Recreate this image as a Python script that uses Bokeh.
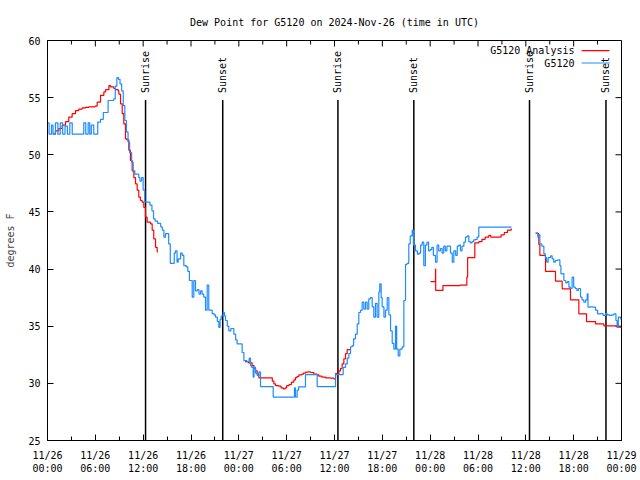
import math
from bokeh.plotting import figure
from bokeh.models import FixedTicker, Range1d
from bokeh.embed import file_html
from bokeh.resources import INLINE
from bokeh.core.properties import value

# ---------------- data (hours since 2024-11-26 00:00 UTC, degrees F) ----------------
obs_t1 = [0.0, 0.2, 0.5, 0.7, 1.0, 1.3, 1.6, 1.9, 2.2, 2.5, 2.8, 3.1, 4.55, 4.8, 5.1, 5.3,
          5.5, 5.8, 6.3, 6.65, 7.0, 7.6, 8.3, 8.5, 8.7, 8.9, 9.1, 9.3, 9.5, 9.7, 9.9, 10.1,
          10.3, 10.55, 10.75, 10.95, 11.2, 11.45, 11.6, 11.8, 12.0, 12.2, 12.7, 12.85, 13.1,
          13.3, 13.5, 13.8, 14.2, 14.4, 14.6, 14.8, 15.05, 15.2, 15.4, 15.7, 15.9, 16.05,
          16.25, 16.4, 16.7, 16.9, 17.1, 17.4, 17.6, 17.8, 18.15, 18.35, 18.56, 18.8, 19.0,
          19.2, 19.4, 19.6, 19.82, 20.03, 20.23, 20.45, 20.66, 20.9, 21.07, 21.3, 21.49,
          21.65, 21.79, 22.04, 22.2, 22.33, 22.55, 22.74, 23.0, 23.37, 23.6, 23.79, 24.2,
          24.42, 24.63, 25.0, 25.3, 25.46, 25.6, 25.8, 25.9, 26.09, 26.3, 26.51, 26.72,
          28.31, 30.9, 30.98, 31.1, 31.32, 31.5, 32.36, 33.83, 35.95, 36.13, 37.09, 37.38,
          37.6, 37.8, 38.01, 38.22, 38.4, 38.63, 38.85, 39.05, 39.26, 39.47, 39.68, 39.89,
          40.1, 40.3, 40.5, 40.73, 40.93, 41.14, 41.35, 41.56, 41.68, 41.85, 41.98, 42.2,
          42.4, 42.61, 42.82, 43.03, 43.24, 43.44, 43.65, 43.8, 43.99, 44.2, 44.49, 44.7,
          44.91, 45.1, 45.32, 45.5, 45.75, 45.9, 46.16, 46.4, 46.6, 46.8, 47.0, 47.2, 47.4,
          47.6, 47.8, 48.0, 48.2, 48.4, 48.67, 48.87, 49.07, 49.3, 49.5, 49.7, 49.9, 50.1,
          50.3, 50.55, 50.77, 50.97, 51.2, 51.4, 51.6, 51.8, 52.0, 52.23, 52.43, 52.64,
          52.85, 53.05, 53.25, 53.45, 53.68, 53.9, 54.1, 58.2]
obs_v1 = [52.8, 51.8, 52.6, 51.8, 52.8, 51.8, 52.8, 51.8, 52.5, 51.8, 52.8, 51.8, 52.8, 51.8,
          52.8, 51.8, 52.6, 51.8, 52.85, 53.1, 53.7, 54.75, 54.9, 56.0, 56.75, 56.6, 56.2, 55.6,
          54.3, 53.0, 52.0, 51.1, 50.2, 49.35, 48.6, 48.3, 48.3, 48.0, 47.7, 48.0, 46.9, 45.85,
          45.85, 45.6, 45.1, 44.4, 44.2, 44.0, 43.7, 43.4, 42.8, 43.1, 43.1, 42.2, 40.5, 40.5,
          41.4, 41.6, 40.6, 40.9, 41.4, 41.2, 40.3, 40.2, 39.8, 39.0, 37.55, 39.0, 38.1, 38.2,
          37.8, 38.1, 37.8, 37.55, 36.4, 38.6, 36.4, 36.4, 36.1, 36.0, 35.8, 35.4, 34.9, 35.6,
          35.9, 36.2, 35.9, 35.5, 35.0, 34.6, 34.8, 34.3, 33.8, 33.45, 33.45, 32.7, 32.0, 31.9,
          32.2, 31.56, 31.4, 30.55, 31.4, 30.9, 30.7, 31.0, 29.72, 28.8, 28.8, 29.6, 28.8, 29.4,
          29.7, 30.77, 29.72, 29.72, 30.77, 31.4, 31.7, 32.2, 32.6, 33.2, 33.3, 33.9, 34.3, 35.2,
          36.2, 36.4, 37.1, 36.5, 37.1, 36.5, 37.4, 37.5, 36.7, 35.8, 37.0, 35.8, 38.0, 38.7,
          37.5, 36.7, 35.8, 36.4, 37.5, 36.0, 34.6, 33.5, 33.0, 35.0, 33.0, 32.4, 33.0, 33.2,
          37.25, 40.4, 40.5, 42.2, 42.9, 43.4, 42.1, 41.6, 41.3, 41.4, 42.1, 42.35, 40.3, 42.1,
          42.35, 41.6, 41.7, 41.9, 41.2, 40.6, 42.1, 41.6, 41.8, 41.4, 42.0, 41.6, 42.0, 42.0,
          41.4, 40.6, 41.6, 41.2, 42.0, 42.1, 41.6, 42.0, 42.35, 42.8, 42.9, 42.4, 42.3, 42.4,
          42.55, 42.6, 42.8, 43.67, 43.67]
obs_t2 = [61.34, 61.5, 61.6, 61.76, 62.0, 62.26, 62.45, 62.6, 62.8, 63.1, 63.3, 63.5, 63.7,
          64.0, 64.15, 64.27, 64.4, 64.6, 64.77, 65.0, 65.2, 65.4, 65.6, 65.8, 66.0, 66.2,
          66.4, 66.6, 66.86, 67.05, 67.27, 67.5, 67.7, 67.8, 68.1, 68.4, 68.74, 69.0, 69.37,
          69.7, 70.0, 70.2, 70.5, 70.8, 71.04, 71.3, 71.45, 71.6, 71.87, 72.0]
obs_v2 = [43.14, 42.8, 43.0, 42.2, 42.0, 41.33, 41.0, 40.6, 41.0, 41.15, 40.9, 40.6, 40.75,
          40.8, 40.8, 40.3, 39.58, 39.6, 39.0, 38.8, 38.9, 38.42, 38.3, 39.29, 38.42, 38.3,
          38.13, 38.3, 37.55, 37.3, 37.1, 37.3, 37.83, 36.67, 36.7, 36.67, 36.4, 36.08, 36.1,
          35.94, 36.1, 36.0, 35.94, 36.0, 36.08, 35.5, 34.92, 35.8, 35.64, 35.6]

ana_t1 = [0.67, 1.0, 1.42, 1.84, 2.26, 2.67, 3.09, 3.51, 3.93, 4.35, 4.77, 5.18, 5.94, 6.23,
          6.65, 7.07, 7.28, 7.7, 7.9, 8.32, 8.53, 8.86, 8.95, 9.16, 9.37, 9.57, 9.78, 9.95,
          10.2, 10.4, 10.62, 10.83, 11.04, 11.25, 11.45, 11.66, 11.87, 12.08, 12.29, 12.5,
          12.92, 13.13, 13.33, 13.55, 13.76, 13.85]
ana_v1 = [51.83, 52.1, 52.3, 52.6, 52.9, 53.3, 53.6, 53.87, 54.0, 54.1, 54.15, 54.2, 54.25, 54.6,
          55.2, 55.5, 55.7, 56.06, 55.95, 55.8, 55.7, 55.6, 55.3, 54.46, 53.6, 52.7, 51.4, 51.3,
          50.4, 49.5, 48.6, 48.0, 47.46, 46.9, 46.3, 46.0, 45.85, 45.4, 44.54, 44.1,
          43.96, 43.4, 42.65, 41.9, 41.5, 41.5]
ana_t2 = [24.75, 25.2, 25.67, 25.9, 26.1, 26.3, 26.51, 27.97, 28.2, 28.4, 28.6, 29.0, 29.3,
          29.56, 29.8, 30.0, 30.3, 30.6, 30.9, 31.1, 31.3, 31.53, 31.9, 32.1, 32.36, 32.7,
          32.99, 33.4, 33.83, 34.03, 34.4, 34.87, 35.5, 35.91, 36.13, 36.55, 36.75, 36.96,
          37.17, 37.38, 37.59, 37.92]
ana_v2 = [31.9, 31.8, 31.56, 31.3, 31.1, 30.8, 30.48, 30.48, 30.2, 29.95, 29.81, 29.75, 29.6,
          29.52, 29.6, 29.8, 29.9, 30.1, 30.3, 30.5, 30.6, 30.75, 30.8, 30.9, 30.98, 31.0,
          30.95, 30.8, 30.75, 30.63, 30.55, 30.48, 30.45, 30.4, 30.85, 31.1, 31.3, 31.7,
          32.15, 32.6, 32.96, 33.0]
ana_t3 = [48.04, 48.67, 48.69, 49.6, 51.72, 52.6, 52.64, 52.7, 53.6, 54.1, 54.5, 54.9, 55.36,
          55.6, 56.61, 56.9, 57.3, 57.7, 58.17]
ana_v3 = [38.9, 40.0, 38.13, 38.56, 38.6, 39.3, 39.3, 41.0, 42.3, 42.4, 42.6, 42.8, 42.94,
          42.8, 42.8, 43.0, 43.2, 43.4, 43.55]
ana_t4 = [61.21, 61.5, 61.63, 61.76, 62.47, 63.72, 64.56, 65.6, 66.65, 67.61, 68.74, 69.78,
          71.45, 72.0]
ana_v4 = [43.14, 43.1, 42.15, 41.19, 39.79, 38.94, 38.27, 37.31, 36.08, 35.41, 35.2, 35.03,
          34.92, 34.92]

sun_t = [12.3, 21.98, 36.43, 45.95, 60.46, 70.05]
sun_labels = ["Sunrise", "Sunset", "Sunrise", "Sunset", "Sunrise", "Sunset"]

x_ticks = [0, 6, 12, 18, 24, 30, 36, 42, 48, 54, 60, 66, 72]
x_minor = [3, 9, 15, 21, 27, 33, 39, 45, 51, 57, 63, 69]
x_tick_labels = ["11/26\n00:00", "11/26\n06:00", "11/26\n12:00", "11/26\n18:00",
                 "11/27\n00:00", "11/27\n06:00", "11/27\n12:00", "11/27\n18:00",
                 "11/28\n00:00", "11/28\n06:00", "11/28\n12:00", "11/28\n18:00",
                 "11/29\n00:00"]
y_ticks = [25, 30, 35, 40, 45, 50, 55, 60]

legend_labels = ["G5120 Analysis", "G5120"]
legend_colors = ["#ff0000", "#1e8cff"]

FONT = "DejaVu Sans Mono"
FS = "10px"
RED = "#ff0000"
BLUE = "#1e8cff"

X0, X1, Y0, Y1 = 0, 72, 25, 60

p = figure(width=640, height=480, output_backend="svg", toolbar_location=None,
           x_range=Range1d(X0, X1), y_range=Range1d(Y0, Y1),
           min_border_left=47, min_border_right=19, min_border_top=40, min_border_bottom=40,
           title="Dew Point for G5120 on 2024-Nov-26 (time in UTC)")
p.title.align = "center"
p.title.text_font = FONT
p.title.text_font_size = FS
p.title.text_font_style = "normal"
p.title.text_color = "black"
p.title.standoff = 25
p.grid.visible = False
p.outline_line_color = "black"
p.background_fill_color = "white"
p.border_fill_color = "white"

xa = p.xaxis[0]
xa.ticker = FixedTicker(ticks=x_ticks, minor_ticks=x_minor)
xa.major_label_overrides = {t: l for t, l in zip(x_ticks, x_tick_labels)}
ya = p.yaxis[0]
ya.ticker = FixedTicker(ticks=y_ticks, minor_ticks=[])
ya.axis_label = "degrees F"

for ax in (xa, ya):
    ax.major_label_text_font = FONT
    ax.major_label_text_font_size = FS
    ax.major_label_text_color = "black"
    ax.axis_label_text_font = FONT
    ax.axis_label_text_font_size = FS
    ax.axis_label_text_font_style = "normal"
    ax.axis_line_color = "black"
    ax.major_tick_in = 6
    ax.major_tick_out = 0
    ax.minor_tick_in = 4
    ax.minor_tick_out = 0
    ax.major_tick_line_color = "black"
    ax.minor_tick_line_color = "black"
xa.major_label_standoff = 9
ya.major_label_standoff = 7
ya.axis_label_standoff = 9

# mirror ticks on top and right borders (derived from the tick arrays)
ty_major = 6 / 400 * (Y1 - Y0)
ty_minor = 4 / 400 * (Y1 - Y0)
tx_major = 6 / 574 * (X1 - X0)
p.segment(x0=x_ticks, y0=[Y1] * len(x_ticks), x1=x_ticks, y1=[Y1 - ty_major] * len(x_ticks),
          line_color="black", line_width=1)
p.segment(x0=x_minor, y0=[Y1] * len(x_minor), x1=x_minor, y1=[Y1 - ty_minor] * len(x_minor),
          line_color="black", line_width=1)
p.segment(x0=[X1] * len(y_ticks), y0=y_ticks, x1=[X1 - tx_major] * len(y_ticks), y1=y_ticks,
          line_color="black", line_width=1)

# sunrise / sunset markers
p.segment(x0=sun_t, y0=[Y0] * len(sun_t), x1=sun_t, y1=[54.8] * len(sun_t),
          line_color="black", line_width=1.5)
p.text(x=sun_t, y=[55.4] * len(sun_t), text=sun_labels, angle=math.pi / 2,
       text_align="left", text_baseline="middle", text_font=value(FONT),
       text_font_size=FS, text_color="black")

# series
for t, v in ((ana_t1, ana_v1), (ana_t2, ana_v2), (ana_t3, ana_v3), (ana_t4, ana_v4)):
    p.step(x=t, y=v, mode="after", line_color=RED, line_width=1.2)
for t, v in ((obs_t1, obs_v1), (obs_t2, obs_v2)):
    p.step(x=t, y=v, mode="after", line_color=BLUE, line_width=1.2)

# legend (gnuplot style: text then sample line)
leg_y = [59.12, 58.03]
p.text(x=[66.1, 66.1], y=leg_y, text=legend_labels, text_align="right",
       text_baseline="middle", text_font=value(FONT), text_font_size=FS, text_color="black")
p.segment(x0=[67.0, 67.0], y0=leg_y, x1=[70.5, 70.5], y1=leg_y,
          line_color=legend_colors, line_width=1.2)

open("out.html", "w").write(file_html(p, INLINE))
